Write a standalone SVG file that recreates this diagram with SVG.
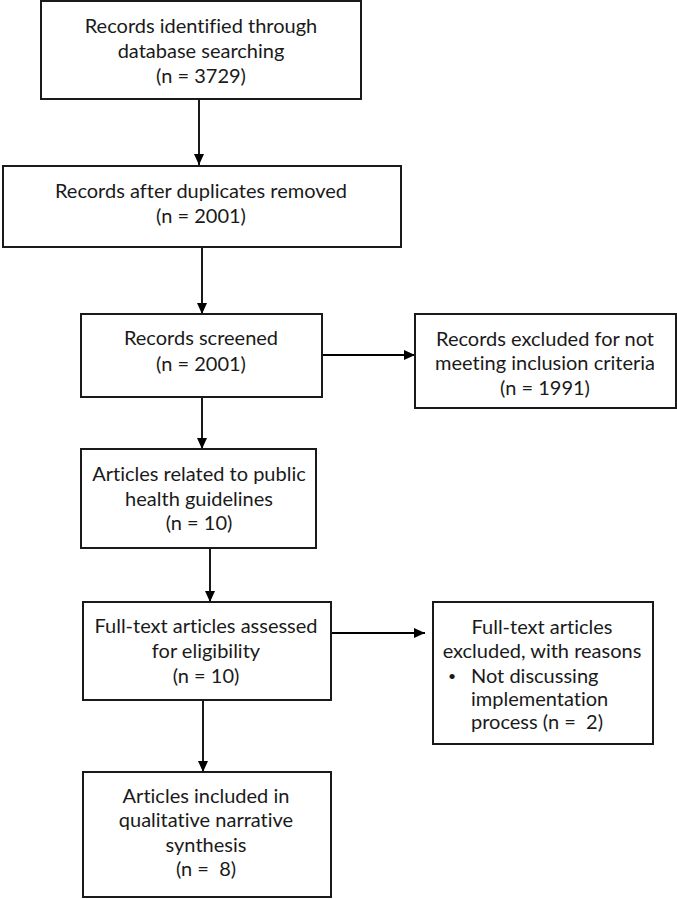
<svg xmlns="http://www.w3.org/2000/svg" width="677" height="899" viewBox="0 0 677 899">
<defs>
<marker id="ah" markerWidth="11" markerHeight="10" refX="11" refY="5" orient="auto" markerUnits="userSpaceOnUse">
<path d="M0,0 L11,5 L0,10 Z" fill="#000"/>
</marker>
<style>
.box{fill:#fff;stroke:#1a1a1a;stroke-width:2}
.t{font-family:Lato,"Liberation Sans",Arial,sans-serif;font-size:20px;fill:#1a1a1a;text-anchor:middle;font-variant-ligatures:none;font-feature-settings:"liga" 0}
.l{text-anchor:start}
.b{font-size:14px}
.c{stroke:#000;stroke-width:1.8;fill:none;marker-end:url(#ah)}
</style>
</defs>
<rect width="677" height="899" fill="#fff"/>
<g id="connectors">
<line class="c" x1="199" y1="99" x2="199" y2="165"/>
<line class="c" x1="202" y1="247" x2="202" y2="314"/>
<line class="c" x1="322" y1="355" x2="415" y2="355"/>
<line class="c" x1="202" y1="397" x2="202" y2="449"/>
<line class="c" x1="210" y1="548" x2="210" y2="602"/>
<line class="c" x1="331" y1="633" x2="425" y2="633"/>
<line class="c" x1="203" y1="700" x2="203" y2="772"/>
</g>
<g id="n1">
<rect class="box" x="41" y="1" width="320" height="98"/>
<text class="t" x="201" y="33">Records identified through</text>
<text class="t" x="201" y="58">database searching</text>
<text class="t" x="201" y="83">(n = 3729)</text>
</g>
<g id="n2">
<rect class="box" x="3" y="166" width="398" height="81"/>
<text class="t" x="201" y="198">Records after duplicates removed</text>
<text class="t" x="201" y="223">(n = 2001)</text>
</g>
<g id="n3">
<rect class="box" x="81" y="314" width="241" height="83"/>
<text class="t" x="201" y="345">Records screened</text>
<text class="t" x="201" y="371">(n = 2001)</text>
</g>
<g id="n4">
<rect class="box" x="415" y="314" width="261" height="94"/>
<text class="t" x="545" y="346">Records excluded for not</text>
<text class="t" x="545" y="370">meeting inclusion criteria</text>
<text class="t" x="545" y="395">(n = 1991)</text>
</g>
<g id="n5">
<rect class="box" x="81" y="449" width="235" height="99"/>
<text class="t" x="199" y="481">Articles related to public</text>
<text class="t" x="199" y="506">health guidelines</text>
<text class="t" x="199" y="530">(n = 10)</text>
</g>
<g id="n6">
<rect class="box" x="83" y="602" width="248" height="98"/>
<text class="t" x="206" y="633">Full-text articles assessed</text>
<text class="t" x="206" y="658">for eligibility</text>
<text class="t" x="206" y="683">(n = 10)</text>
</g>
<g id="n7">
<rect class="box" x="433" y="602" width="220" height="142"/>
<text class="t" x="542" y="634">Full-text articles</text>
<text class="t" x="542" y="658">excluded, with reasons</text>
<text class="t b" x="452" y="681">•</text>
<text class="t l" x="471" y="683">Not discussing</text>
<text class="t l" x="471" y="706">implementation</text>
<text class="t l" x="471" y="729" xml:space="preserve">process (n =  2)</text>
</g>
<g id="n8">
<rect class="box" x="83" y="772" width="248" height="125"/>
<text class="t" x="206" y="803">Articles included in</text>
<text class="t" x="206" y="827">qualitative narrative</text>
<text class="t" x="206" y="852">synthesis</text>
<text class="t" x="206" y="876" xml:space="preserve">(n =  8)</text>
</g>
</svg>
